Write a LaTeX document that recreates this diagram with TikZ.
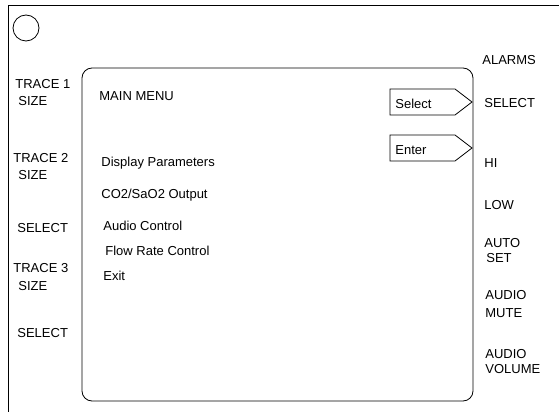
\documentclass[tikz,border=0pt]{standalone}
\usepackage{fontspec}
\setmainfont{Liberation Sans}
\usetikzlibrary{positioning}

\begin{document}
\begin{tikzpicture}[
  x=1pt, y=-1pt,
  line width=0.8pt,
  key label/.style={anchor=base west, inner sep=0pt, font=\fontsize{13}{15}\selectfont},
  menu item/.style={anchor=base west, inner sep=0pt, font=\fontsize{13}{15}\selectfont},
  soft key/.style={draw, line join=miter}
]
  \useasboundingbox (0,0) rectangle (559,412);

  % monitor housing and knob
  \draw (559,5) -- (8,5) -- (8,412);
  \node[draw, circle, minimum size=26pt, inner sep=0pt] (knob) at (26,28) {};

  % screen
  \draw[rounded corners=10pt] (82,68) rectangle (473,401);

  % left keys
  \node[key label] (trace1) at (15,88) {TRACE 1};
  \node[key label] (trace1 size) at (18,105) {SIZE};
  \node[key label] (trace2) at (13,162) {TRACE 2};
  \node[key label] (trace2 size) at (18,179) {SIZE};
  \node[key label] (select a) at (17,232) {SELECT};
  \node[key label] (trace3) at (13,272) {TRACE 3};
  \node[key label] (trace3 size) at (18,290) {SIZE};
  \node[key label] (select b) at (17,337) {SELECT};

  % menu
  \node[menu item] (main menu) at (99,100) {MAIN MENU};
  \node[menu item] (display) at (101,166) {Display Parameters};
  \node[menu item] (output) at (101,198) {CO2/SaO2 Output};
  \node[menu item] (audio) at (103,230) {Audio Control};
  \node[menu item] (flow) at (105,255) {Flow Rate Control};
  \node[menu item] (exit) at (103,280) {Exit};

  % soft keys on the screen
  \draw[soft key] (390,89) -- (455,89) -- (472,102) -- (455,115) -- (390,115) -- cycle;
  \node[menu item] (select key) at (395,108) {Select};
  \draw[soft key] (390,135) -- (455,135) -- (472,148) -- (455,161) -- (390,161) -- cycle;
  \node[menu item] (enter key) at (395,154) {Enter};

  % right keys
  \node[key label] (alarms) at (482,64) {ALARMS};
  \node[key label] (alarm select) at (484,107) {SELECT};
  \node[key label] (hi) at (484,167) {HI};
  \node[key label] (low) at (484,209) {LOW};
  \node[key label] (auto) at (484,247) {AUTO};
  \node[key label] (set) at (486,262) {SET};
  \node[key label] (audio1) at (485,299) {AUDIO};
  \node[key label] (mute) at (485,317) {MUTE};
  \node[key label] (audio2) at (485,358) {AUDIO};
  \node[key label] (volume) at (485,373) {VOLUME};
\end{tikzpicture}
\end{document}
